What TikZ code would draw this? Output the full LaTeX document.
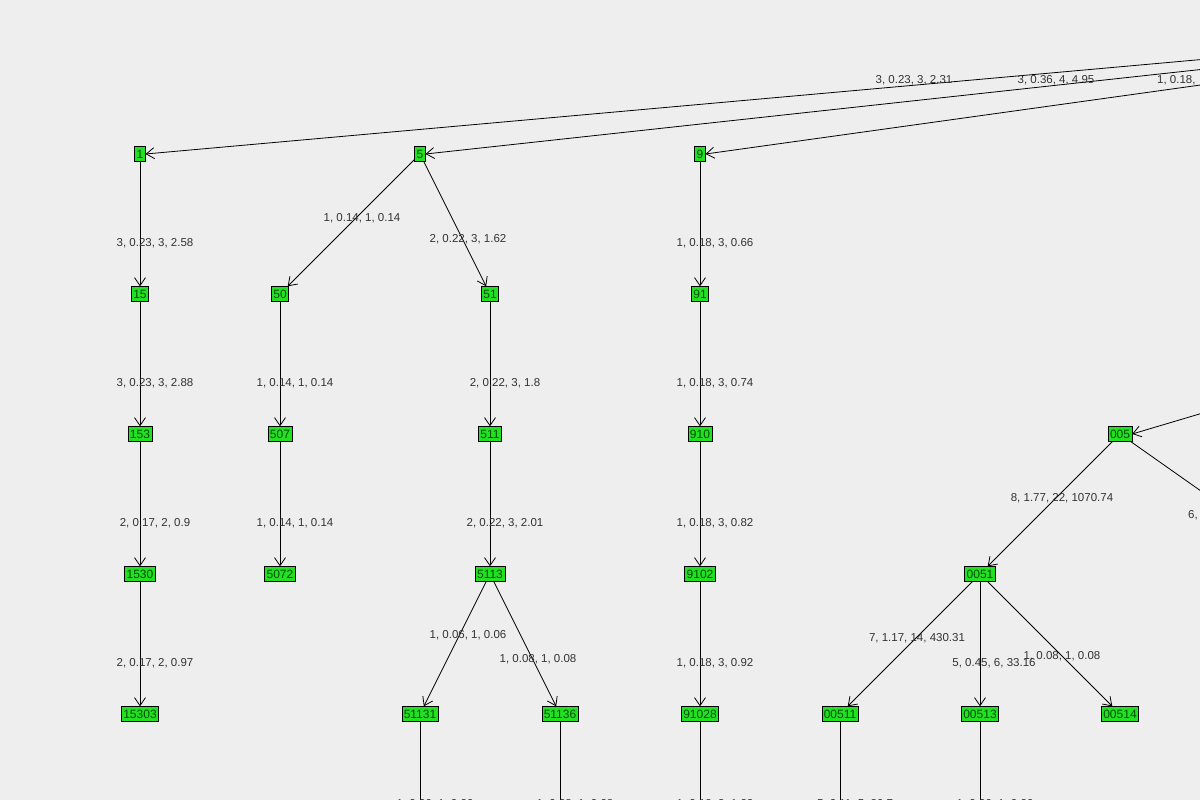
\documentclass[tikz,border=0pt]{standalone}
\usepackage{fontspec}
\setmainfont{Liberation Sans}
\usetikzlibrary{arrows.meta}
\definecolor{bg}{HTML}{EEEEEE}
\definecolor{ngreen}{HTML}{22E022}
\begin{document}
\begin{tikzpicture}[x=1pt,y=-1pt,
  tn/.style={draw=black,fill=ngreen,inner xsep=2pt,inner ysep=0pt,minimum height=15pt,font=\fontsize{12}{13}\selectfont,text=black!70!green},
  el/.style={font=\fontsize{11.5}{12}\selectfont,text=black!80,fill=none,inner sep=0pt},
  ed/.style={draw=black,line width=0.8pt,-{Straight Barb[length=8pt,width=11pt]}},
  ef/.style={draw=black,line width=0.8pt}]
\fill[bg] (0,0) rectangle (1200,800);
\useasboundingbox (0,0) rectangle (1200,800);
\clip (0,0) rectangle (1200,800);
\coordinate (root) at (1710,14);
\coordinate (p005) at (1270,393);
\coordinate (c005) at (1262,534);
\node[tn] (n1) at (140,154) {1};
\node[tn] (n5) at (420,154) {5};
\node[tn] (n9) at (700,154) {9};
\node[tn] (n15) at (140,294) {15};
\node[tn] (n50) at (280,294) {50};
\node[tn] (n51) at (490,294) {51};
\node[tn] (n91) at (700,294) {91};
\node[tn] (n153) at (140,434) {153};
\node[tn] (n507) at (280,434) {507};
\node[tn] (n511) at (490,434) {511};
\node[tn] (n910) at (700,434) {910};
\node[tn] (n005) at (1120,434) {005};
\node[tn] (n1530) at (140,574) {1530};
\node[tn] (n5072) at (280,574) {5072};
\node[tn] (n5113) at (490,574) {5113};
\node[tn] (n9102) at (700,574) {9102};
\node[tn] (n0051) at (980,574) {0051};
\node[tn] (n15303) at (140,714) {15303};
\node[tn] (n51131) at (420,714) {51131};
\node[tn] (n51136) at (560,714) {51136};
\node[tn] (n91028) at (700,714) {91028};
\node[tn] (n00511) at (840,714) {00511};
\node[tn] (n00513) at (980,714) {00513};
\node[tn] (n00514) at (1120,714) {00514};
\coordinate (b1) at (420,860);
\coordinate (b2) at (560,860);
\coordinate (b3) at (700,860);
\coordinate (b4) at (840,860);
\coordinate (b5) at (980,860);
\draw[ed] (root) -- (n1.east);
\draw[ed] (root) -- (n5.east);
\draw[ed] (root) -- (n9.east);
\draw[ed] (p005) -- (n005.east);
\draw[ef] (n005) -- (c005);
\foreach \a/\b in {n1/n15,n15/n153,n153/n1530,n1530/n15303,n5/n50,n5/n51,n50/n507,n507/n5072,n51/n511,n511/n5113,n5113/n51131,n5113/n51136,n9/n91,n91/n910,n910/n9102,n9102/n91028,n005/n0051,n0051/n00511,n0051/n00513,n0051/n00514}
  \draw[ed] (\a) -- (\b);
\draw[ef] (n51131) -- (b1);
\draw[ef] (n51136) -- (b2);
\draw[ef] (n91028) -- (b3);
\draw[ef] (n00511) -- (b4);
\draw[ef] (n00513) -- (b5);
\node[el] (l1) at (914,80) {3, 0.23, 3, 2.31};
\node[el] (l2) at (1056,80) {3, 0.36, 4, 4.95};
\node[el,anchor=west] (l3) at (1157,80) {1, 0.18,};
\node[el] (l4) at (155,243) {3, 0.23, 3, 2.58};
\node[el] (l5) at (362,218) {1, 0.14, 1, 0.14};
\node[el] (l6) at (468,239) {2, 0.22, 3, 1.62};
\node[el] (l7) at (715,243) {1, 0.18, 3, 0.66};
\node[el] (l8) at (155,383) {3, 0.23, 3, 2.88};
\node[el] (l9) at (295,383) {1, 0.14, 1, 0.14};
\node[el] (l10) at (505,383) {2, 0.22, 3, 1.8};
\node[el] (l11) at (715,383) {1, 0.18, 3, 0.74};
\node[el] (l12) at (155,523) {2, 0.17, 2, 0.9};
\node[el] (l13) at (295,523) {1, 0.14, 1, 0.14};
\node[el] (l14) at (505,523) {2, 0.22, 3, 2.01};
\node[el] (l15) at (715,523) {1, 0.18, 3, 0.82};
\node[el] (l16) at (1062,498) {8, 1.77, 22, 1070.74};
\node[el,anchor=west] (l17) at (1188,515) {6,};
\node[el] (l18) at (155,663) {2, 0.17, 2, 0.97};
\node[el] (l19) at (468,635) {1, 0.06, 1, 0.06};
\node[el] (l20) at (538,659) {1, 0.08, 1, 0.08};
\node[el] (l21) at (715,663) {1, 0.18, 3, 0.92};
\node[el] (l22) at (917,638) {7, 1.17, 14, 430.31};
\node[el] (l23) at (994,663) {5, 0.45, 6, 33.16};
\node[el] (l24) at (1062,656) {1, 0.08, 1, 0.08};
\node[el] (l25) at (435,804) {1, 0.06, 1, 0.06};
\node[el] (l26) at (575,804) {1, 0.08, 1, 0.08};
\node[el] (l27) at (715,804) {1, 0.18, 3, 1.02};
\node[el] (l28) at (855,804) {5, 0.11, 5, 26.7};
\node[el] (l29) at (995,804) {1, 0.06, 1, 0.06};
\end{tikzpicture}
\end{document}
